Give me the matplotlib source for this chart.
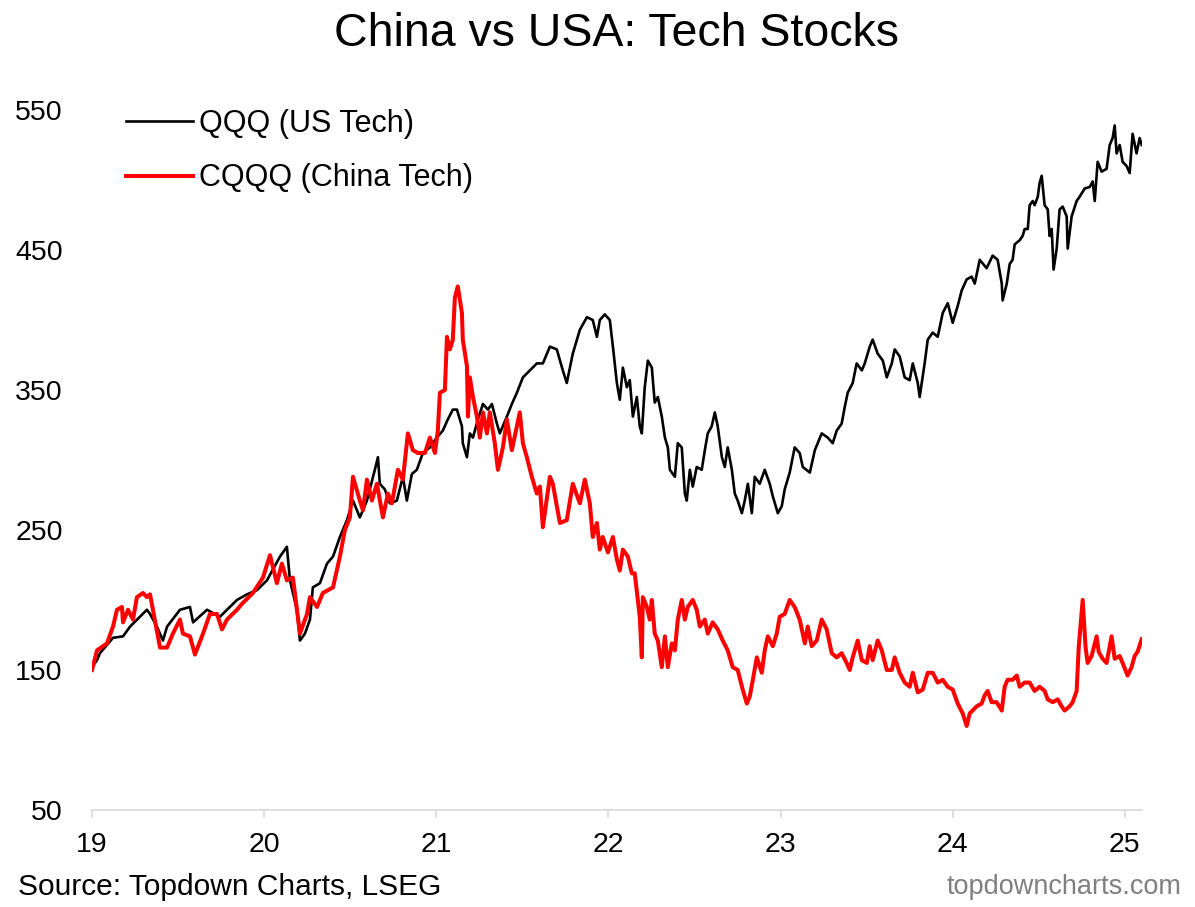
import matplotlib
matplotlib.use("Agg")
import matplotlib.pyplot as plt

plt.rcParams["font.family"] = ["Liberation Sans", "DejaVu Sans"]

# decimal year (19 = Jan 2019) and price
qqq_years = [
    19.000, 19.029, 19.046, 19.122, 19.180, 19.221, 19.319, 19.337, 19.377, 19.412,
    19.436, 19.511, 19.569, 19.587, 19.668, 19.743, 19.842, 19.900, 19.958, 20.016,
    20.092, 20.132, 20.150, 20.190, 20.208, 20.237, 20.266, 20.283, 20.324, 20.365,
    20.400, 20.440, 20.481, 20.516, 20.556, 20.597, 20.643, 20.661, 20.672, 20.701,
    20.731, 20.771, 20.806, 20.829, 20.858, 20.887, 20.922, 20.963, 21.003, 21.038,
    21.067, 21.096, 21.120, 21.149, 21.154, 21.178, 21.195, 21.213, 21.242, 21.271,
    21.300, 21.323, 21.352, 21.369, 21.410, 21.439, 21.468, 21.503, 21.544, 21.584,
    21.619, 21.660, 21.700, 21.735, 21.758, 21.793, 21.834, 21.875, 21.909, 21.933,
    21.950, 21.979, 22.008, 22.026, 22.049, 22.066, 22.084, 22.107, 22.124, 22.142,
    22.165, 22.182, 22.194, 22.211, 22.229, 22.252, 22.269, 22.287, 22.310, 22.328,
    22.345, 22.357, 22.386, 22.403, 22.426, 22.444, 22.455, 22.473, 22.490, 22.513,
    22.542, 22.560, 22.577, 22.600, 22.618, 22.635, 22.659, 22.676, 22.693, 22.717,
    22.734, 22.751, 22.775, 22.792, 22.810, 22.833, 22.850, 22.879, 22.908, 22.937,
    22.955, 22.984, 23.007, 23.024, 23.053, 23.082, 23.111, 23.129, 23.170, 23.199,
    23.239, 23.274, 23.303, 23.326, 23.355, 23.373, 23.390, 23.419, 23.442, 23.472,
    23.489, 23.518, 23.535, 23.564, 23.594, 23.617, 23.646, 23.663, 23.692, 23.721,
    23.750, 23.768, 23.797, 23.808, 23.837, 23.855, 23.884, 23.913, 23.942, 23.971,
    24.000, 24.029, 24.052, 24.081, 24.110, 24.128, 24.157, 24.197, 24.232, 24.261,
    24.285, 24.290, 24.314, 24.331, 24.348, 24.360, 24.389, 24.406, 24.418, 24.436,
    24.447, 24.465, 24.476, 24.494, 24.505, 24.517, 24.534, 24.552, 24.563, 24.575,
    24.586, 24.604, 24.621, 24.639, 24.662, 24.668, 24.691, 24.720, 24.737, 24.767,
    24.796, 24.813, 24.825, 24.842, 24.865, 24.894, 24.912, 24.929, 24.941, 24.952,
    24.970, 24.987, 25.010, 25.028, 25.045, 25.068, 25.086, 25.098,
]
qqq_values = [
    152, 157, 162, 173, 174, 181, 193, 190, 181, 171,
    181, 193, 195, 184, 193, 188, 200, 204, 207, 214,
    231, 238, 214, 193, 171, 176, 186, 209, 212, 226,
    231, 245, 257, 271, 259, 271, 293, 302, 283, 279,
    269, 271, 288, 271, 290, 293, 305, 309, 316, 321,
    329, 336, 336, 324, 312, 302, 319, 316, 329, 340,
    336, 340, 326, 319, 331, 340, 348, 359, 364, 369,
    369, 381, 379, 364, 355, 376, 393, 402, 400, 388,
    400, 404, 400, 381, 355, 343, 366, 352, 357, 331,
    345, 324, 319, 352, 371, 366, 341, 345, 331, 316,
    309, 293, 288, 312, 309, 276, 271, 293, 281, 295,
    293, 307, 319, 324, 334, 324, 302, 295, 309, 293,
    276, 271, 262, 271, 283, 262, 288, 283, 293, 283,
    274, 262, 267, 279, 291, 309, 305, 295, 291, 307,
    319, 316, 312, 321, 326, 338, 348, 355, 369, 364,
    369, 381, 386, 376, 371, 359, 369, 379, 374, 359,
    357, 369, 355, 345, 369, 386, 391, 388, 405, 412,
    398, 410, 421, 429, 431, 426, 443, 437, 446, 443,
    426, 414, 426, 440, 443, 454, 457, 460, 465, 465,
    482, 485, 482, 488, 498, 503, 482, 479, 460, 465,
    436, 451, 479, 481, 474, 451, 474, 485, 488, 494,
    495, 499, 485, 513, 506, 508, 525, 530, 539, 519,
    525, 513, 510, 505, 533, 519, 530, 525,
]

cqqq_years = [
    19.000, 19.029, 19.087, 19.122, 19.145, 19.174, 19.180, 19.209, 19.238, 19.261,
    19.296, 19.319, 19.337, 19.354, 19.395, 19.436, 19.470, 19.511, 19.528, 19.569,
    19.598, 19.645, 19.685, 19.726, 19.755, 19.784, 19.842, 19.877, 19.935, 19.993,
    20.034, 20.074, 20.103, 20.132, 20.167, 20.208, 20.249, 20.266, 20.307, 20.341,
    20.400, 20.440, 20.469, 20.498, 20.516, 20.556, 20.574, 20.597, 20.626, 20.655,
    20.690, 20.719, 20.742, 20.777, 20.806, 20.835, 20.864, 20.893, 20.934, 20.963,
    20.992, 21.009, 21.021, 21.050, 21.062, 21.079, 21.096, 21.108, 21.125, 21.149,
    21.154, 21.178, 21.184, 21.195, 21.213, 21.236, 21.253, 21.271, 21.294, 21.311,
    21.340, 21.358, 21.387, 21.410, 21.439, 21.468, 21.485, 21.503, 21.526, 21.555,
    21.584, 21.602, 21.619, 21.660, 21.677, 21.718, 21.758, 21.793, 21.834, 21.863,
    21.892, 21.909, 21.933, 21.950, 21.967, 21.997, 22.026, 22.049, 22.066, 22.084,
    22.113, 22.136, 22.153, 22.171, 22.182, 22.194, 22.200, 22.223, 22.240, 22.252,
    22.269, 22.287, 22.310, 22.328, 22.345, 22.368, 22.386, 22.403, 22.426, 22.444,
    22.461, 22.490, 22.513, 22.531, 22.560, 22.577, 22.606, 22.635, 22.664, 22.693,
    22.722, 22.751, 22.780, 22.804, 22.821, 22.839, 22.862, 22.891, 22.908, 22.926,
    22.955, 22.978, 22.995, 23.024, 23.053, 23.082, 23.111, 23.141, 23.158, 23.181,
    23.210, 23.239, 23.268, 23.297, 23.326, 23.355, 23.384, 23.402, 23.419, 23.448,
    23.472, 23.501, 23.518, 23.535, 23.564, 23.588, 23.617, 23.646, 23.663, 23.692,
    23.721, 23.750, 23.768, 23.797, 23.826, 23.855, 23.884, 23.913, 23.942, 23.971,
    24.000, 24.029, 24.058, 24.081, 24.099, 24.139, 24.168, 24.186, 24.203, 24.226,
    24.255, 24.285, 24.302, 24.319, 24.348, 24.372, 24.389, 24.418, 24.447, 24.476,
    24.505, 24.534, 24.552, 24.581, 24.610, 24.633, 24.650, 24.679, 24.697, 24.720,
    24.732, 24.755, 24.772, 24.784, 24.807, 24.836, 24.848, 24.871, 24.894, 24.923,
    24.941, 24.970, 24.987, 25.016, 25.039, 25.057, 25.074, 25.098,
]
cqqq_values = [
    150, 164, 169, 181, 193, 195, 184, 193, 186, 202,
    205, 202, 204, 193, 166, 166, 176, 186, 176, 174,
    161, 176, 190, 190, 179, 186, 193, 198, 205, 216,
    232, 212, 226, 214, 216, 176, 190, 202, 195, 205,
    209, 231, 250, 259, 288, 271, 264, 286, 271, 283,
    259, 276, 269, 293, 286, 319, 307, 305, 305, 316,
    305, 321, 348, 350, 388, 379, 386, 416, 424, 405,
    386, 367, 331, 359, 345, 331, 316, 334, 319, 334,
    312, 293, 309, 329, 307, 324, 334, 312, 302, 288,
    276, 281, 252, 288, 283, 255, 257, 283, 269, 286,
    269, 245, 255, 236, 245, 234, 245, 229, 221, 236,
    231, 219, 219, 200, 188, 159, 202, 195, 186, 200,
    176, 171, 152, 174, 152, 169, 164, 186, 200, 186,
    195, 200, 193, 181, 186, 176, 184, 179, 171, 164,
    152, 150, 136, 126, 131, 143, 159, 148, 164, 174,
    167, 176, 188, 190, 200, 195, 186, 169, 181, 167,
    171, 186, 179, 162, 159, 162, 155, 150, 159, 171,
    157, 155, 167, 157, 171, 164, 150, 150, 159, 148,
    141, 138, 148, 134, 136, 148, 148, 141, 143, 138,
    136, 126, 119, 110, 119, 124, 126, 132, 135, 127,
    127, 121, 138, 143, 143, 146, 138, 141, 141, 135,
    138, 135, 129, 127, 129, 124, 121, 124, 127, 135,
    166, 200, 166, 155, 160, 174, 163, 158, 155, 174,
    158, 160, 155, 146, 152, 160, 163, 172,
]

year_ticks = [19, 20, 21, 22, 23, 24, 25]
value_ticks = [50, 150, 250, 350, 450, 550]

fig = plt.figure(figsize=(11.95, 9.07), dpi=100)
ax = fig.add_axes([0.077, 0.107, 0.8787, 0.7717])

ax.plot(qqq_years, qqq_values, color="black", linewidth=1.9, label="QQQ (US Tech)")
ax.plot(cqqq_years, cqqq_values, color="#ff0000", linewidth=2.9, label="CQQQ (China Tech)")

ax.set_xlim(19, 25.1)
ax.set_ylim(50, 550)
ax.set_xticks(year_ticks)
ax.set_xticklabels([str(y) for y in year_ticks])
ax.set_yticks(value_ticks)

for side in ["top", "right", "left"]:
    ax.spines[side].set_visible(False)
ax.spines["bottom"].set_color("#d9d9d9")
ax.spines["bottom"].set_linewidth(1.2)
ax.tick_params(axis="x", colors="#d9d9d9", length=6, width=1.2,
               labelcolor="black", labelsize=20.5, pad=10)
ax.tick_params(axis="y", length=0, labelsize=20.5, pad=21)

ax.legend(loc="upper left", bbox_to_anchor=(0.0324, 1.002), frameon=False,
          fontsize=22, handlelength=2.2, handletextpad=0.2, labelspacing=0.81,
          borderpad=0, borderaxespad=0)

fig.text(0.516, 0.963, "China vs USA: Tech Stocks", ha="center", va="center", fontsize=33.5)
fig.text(0.015, 0.022, "Source: Topdown Charts, LSEG", ha="left", va="center", fontsize=21.5)
fig.text(0.989, 0.022, "topdowncharts.com", ha="right", va="center", fontsize=19.5, color="#7f7f7f")

fig.savefig("out.png", dpi=100)
